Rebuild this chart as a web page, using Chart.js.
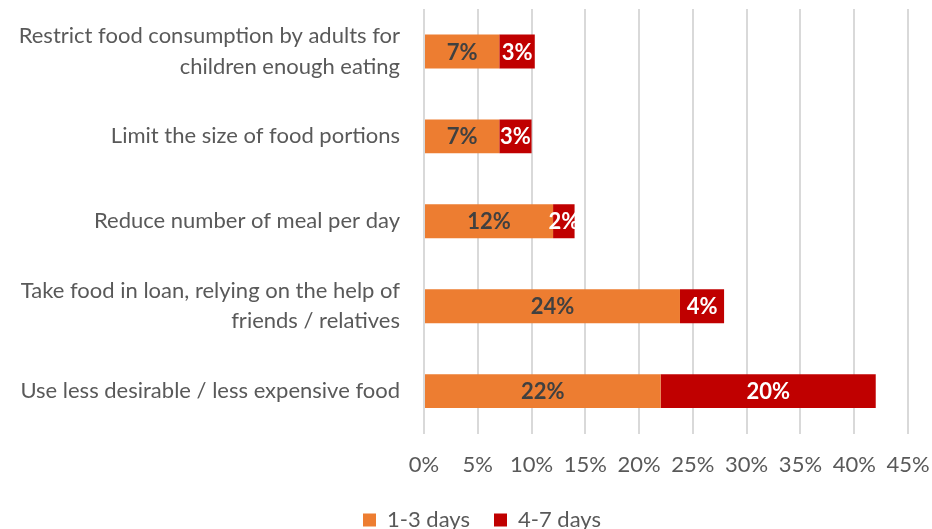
<!DOCTYPE html>
<html>
<head>
<meta charset="utf-8">
<script src="https://cdn.jsdelivr.net/npm/chart.js@4/dist/chart.umd.min.js"></script>
<style>
  html, body { margin: 0; padding: 0; background: #fff; overflow: hidden; }
  #wrap { width: 932px; height: 541px; position: relative; }
</style>
</head>
<body>
<div id="wrap"><canvas id="chart"></canvas></div>
<script>
const categories = [
  ['Restrict food consumption by adults for', 'children enough eating'],
  'Limit the size of food portions',
  'Reduce number of meal per day',
  ['Take food in loan, relying on the help of', 'friends / relatives'],
  'Use less desirable / less expensive food'
];
const days13 = [7.0, 7.0, 12.0, 23.8, 22.0];
const days47 = [3.3, 3.0, 2.0, 4.1, 20.0];
const xTicks = [0, 5, 10, 15, 20, 25, 30, 35, 40, 45];

const FONT = 'Lato, "Open Sans", sans-serif';

// draws the rounded value in the middle of each segment
const segLabels = {
  id: 'segLabels',
  afterDatasetsDraw(chart) {
    const ctx = chart.ctx;
    ctx.save();
    ctx.font = 'bold 22px ' + FONT;
    ctx.textAlign = 'center';
    ctx.textBaseline = 'middle';
    chart.data.datasets.forEach((ds, i) => {
      const meta = chart.getDatasetMeta(i);
      meta.data.forEach((bar, j) => {
        const p = bar.getProps(['x', 'y', 'base'], true);
        ctx.fillStyle = ds.labelColor;
        ctx.fillText(Math.round(ds.data[j]) + '%', (p.x + p.base) / 2, p.y + 1);
      });
    });
    ctx.restore();
  }
};

// legend in the original sits a bit right of the page centre
const legendShift = {
  id: 'legendShift',
  afterLayout(chart) {
    chart.legend.left += 16;
    chart.legend.right += 16;
  }
};

new Chart(document.getElementById('chart'), {
  type: 'bar',
  data: {
    labels: categories,
    datasets: [
      { label: '1-3 days', data: days13, backgroundColor: '#ed7d31', labelColor: '#404040' },
      { label: '4-7 days', data: days47, backgroundColor: '#c00000', labelColor: '#ffffff' }
    ]
  },
  options: {
    indexAxis: 'y',
    responsive: true,
    maintainAspectRatio: false,
    animation: false,
    datasets: { bar: { categoryPercentage: 1, barPercentage: 0.4 } },
    layout: { padding: { left: 0, right: 0, top: 9, bottom: 0 } },
    scales: {
      x: {
        stacked: true,
        min: 0, max: 45,
        afterBuildTicks(axis) { axis.ticks = xTicks.map(v => ({ value: v })); },
        afterFit(axis) { axis.paddingRight = 24; axis.height -= 11; },
        grid: { color: '#d9d9d9', lineWidth: 2, drawTicks: false },
        border: { display: false },
        ticks: {
          padding: 18,
          color: '#595959',
          font: { family: FONT, size: 22 },
          callback: v => v + '%'
        }
      },
      y: {
        stacked: true,
        grid: { display: false },
        border: { display: false },
        afterFit(axis) { axis.paddingTop = 0; axis.paddingBottom = 0; axis.width = 424; },
        ticks: {
          padding: 16,
          color: '#595959',
          font: { family: FONT, size: 22, lineHeight: 1.38 }
        }
      }
    },
    plugins: {
      legend: {
        position: 'bottom',
        labels: {
          boxWidth: 13, boxHeight: 13, padding: 24,
          color: '#595959',
          font: { family: FONT, size: 22 }
        }
      },
      tooltip: { enabled: false }
    }
  },
  plugins: [segLabels, legendShift]
});
</script>
</body>
</html>
